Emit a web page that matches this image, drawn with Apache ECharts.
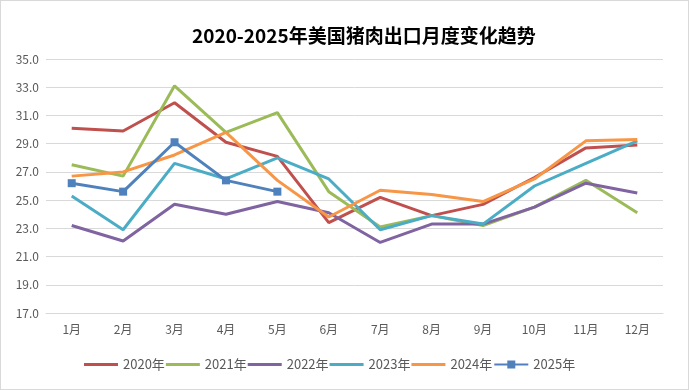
<!DOCTYPE html>
<html><head><meta charset="utf-8">
<script src="https://cdn.jsdelivr.net/npm/echarts@6/dist/echarts.min.js"></script>
<style>html,body{margin:0;padding:0;background:#fff}#c{position:absolute;left:0;top:0;width:687px;height:388px;border:1px solid #D9D9D9}</style>
</head><body><div id="c"></div>
<script>
const months = ['1月','2月','3月','4月','5月','6月','7月','8月','9月','10月','11月','12月'];
const s2020 = [30.1, 29.9, 31.9, 29.1, 28.1, 23.4, 25.2, 23.9, 24.7, 26.6, 28.7, 28.9];
const s2021 = [27.5, 26.7, 33.1, 29.8, 31.2, 25.6, 23.1, 23.9, 23.2, 24.5, 26.4, 24.1];
const s2022 = [23.2, 22.1, 24.7, 24.0, 24.9, 24.1, 22.0, 23.3, 23.3, 24.5, 26.2, 25.5];
const s2023 = [25.3, 22.9, 27.6, 26.5, 28.0, 26.5, 22.9, 23.9, 23.3, 26.0, 27.6, 29.2];
const s2024 = [26.7, 27.0, 28.2, 29.8, 26.4, 23.8, 25.7, 25.4, 24.9, 26.5, 29.2, 29.3];
const s2025 = [26.2, 25.6, 29.1, 26.4, 25.6, null, null, null, null, null, null, null];
const names = ['2020年','2021年','2022年','2023年','2024年','2025年'];
const colors = ['#C0504D','#9BBB59','#8064A2','#4BACC6','#F79646','#4F81BD'];
const data = [s2020, s2021, s2022, s2023, s2024, s2025];

const chart = echarts.init(document.getElementById('c'), null, {renderer:'canvas'});
const series = data.map((d,i)=>({
  name: names[i], type:'line', data:d,
  symbol: i===5 ? 'rect' : 'none', symbolSize: 8, showSymbol: i===5,
  lineStyle:{width:3, color:colors[i]}, itemStyle:{color:colors[i]},
  emphasis:{disabled:true}
}));
chart.setOption({
  animation:false,
  title:{text:'2020-2025年美国猪肉出口月度变化趋势', left:186, top:20,
    textStyle:{fontSize:19, fontWeight:'bold', color:'#000', fontFamily:'Noto Sans CJK SC'}},
  grid:{left:45, right:25, top:58, bottom:76, containLabel:false},
  legend:{bottom:13, left:78, itemWidth:34, itemHeight:10, itemGap:1,
    textStyle:{fontSize:13, color:'#595959', fontFamily:'Noto Sans CJK SC'},
    data:names.map((n,i)=> i===5 ? {name:n} : {name:n, icon:'path://M0,0 H34 V3 H0 Z'})
  },
  xAxis:{type:'category', data:months, boundaryGap:true,
    axisLine:{show:true, lineStyle:{color:'#D9D9D9'}}, axisTick:{show:false},
    axisLabel:{fontSize:12, color:'#595959', margin:10, fontFamily:'Noto Sans CJK SC'}},
  yAxis:{type:'value', min:17, max:35, interval:2,
    axisLine:{show:false}, axisTick:{show:false},
    splitLine:{lineStyle:{color:'#D9D9D9', width:1}},
    axisLabel:{fontSize:12, color:'#595959', margin:7, formatter:v=>v.toFixed(1), fontFamily:'Noto Sans CJK SC'}},
  series: series
});
</script></body></html>
